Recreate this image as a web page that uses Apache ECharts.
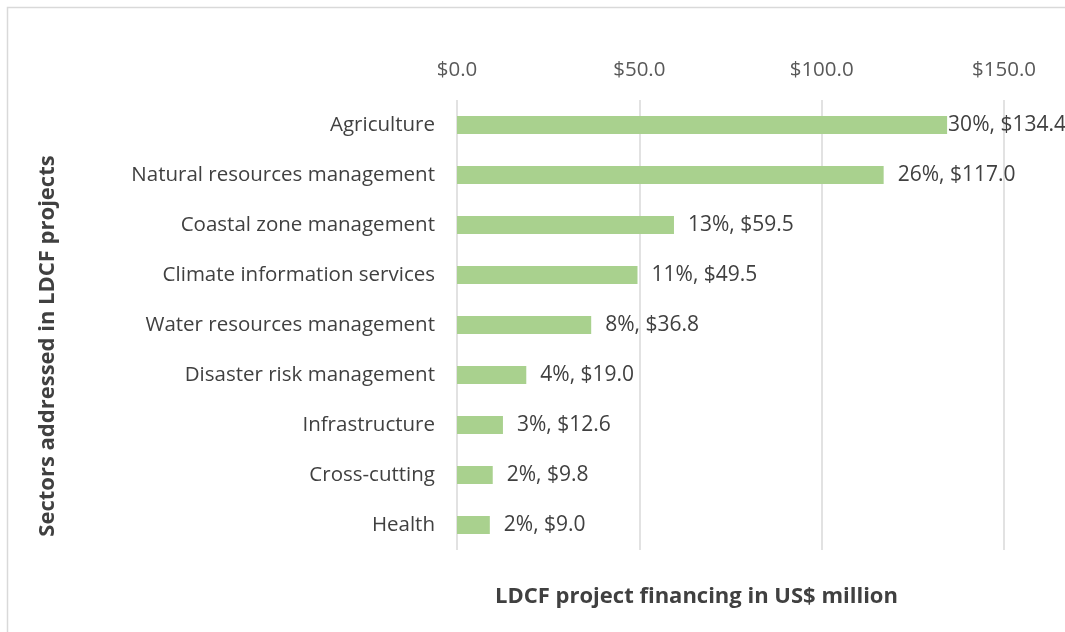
<!DOCTYPE html>
<html><head><meta charset="utf-8">
<script src="https://cdn.jsdelivr.net/npm/echarts@6/dist/echarts.min.js"></script>
<style>html,body{margin:0;padding:0;background:#fff}#c{width:1065px;height:632px}</style>
</head><body><div id="c"></div>
<script>
const categories = ["Agriculture","Natural resources management","Coastal zone management","Climate information services","Water resources management","Disaster risk management","Infrastructure","Cross-cutting","Health"];
const financing = [134.4,117.0,59.5,49.5,36.8,19.0,12.6,9.8,9.0];
const shares = [30,26,13,11,8,4,3,2,2];
const FONT = "'Open Sans', sans-serif";
const chart = echarts.init(document.getElementById('c'));
const data = financing.map((v,i)=>{
  const d = {value:v};
  if(i===0) d.label = {distance:1};
  return d;
});
chart.setOption({
  animation:false,
  graphic:[{type:'rect',shape:{x:7.5,y:7.5,width:1070,height:640},style:{fill:'none',stroke:'#d9d9d9',lineWidth:1.5},silent:true}],
  grid:{left:457,right:61,top:100,bottom:82},
  xAxis:{type:'value',position:'top',min:0,max:150,interval:50,
    axisLabel:{formatter:v=>'$'+v.toFixed(1),color:'#595959',fontSize:20.5,fontFamily:FONT,margin:19},
    axisLine:{show:false},axisTick:{show:false},
    splitLine:{lineStyle:{color:'#d9d9d9',width:1.5}},
    name:'LDCF project financing in US$ million',nameLocation:'middle',nameGap:-508,
    nameTextStyle:{color:'#404040',fontSize:22,fontWeight:'bold',fontFamily:FONT,padding:[0,68,0,0]}
  },
  yAxis:{type:'category',data:categories,inverse:true,
    axisLabel:{color:'#404040',fontSize:20.5,fontFamily:FONT,margin:22},
    axisLine:{show:false},axisTick:{show:false},
    name:'Sectors addressed in LDCF projects',nameLocation:'middle',nameGap:398,nameRotate:90,
    nameTextStyle:{color:'#404040',fontSize:22,fontWeight:'bold',fontFamily:FONT,padding:[0,42,0,0]}
  },
  series:[{type:'bar',data:data,barWidth:18,itemStyle:{color:'#a9d18e'},
    label:{show:true,position:'right',distance:14,color:'#404040',fontSize:21,fontFamily:FONT,
      formatter:p=>shares[p.dataIndex]+'%, $'+p.value.toFixed(1)}
  }]
});
</script></body></html>
